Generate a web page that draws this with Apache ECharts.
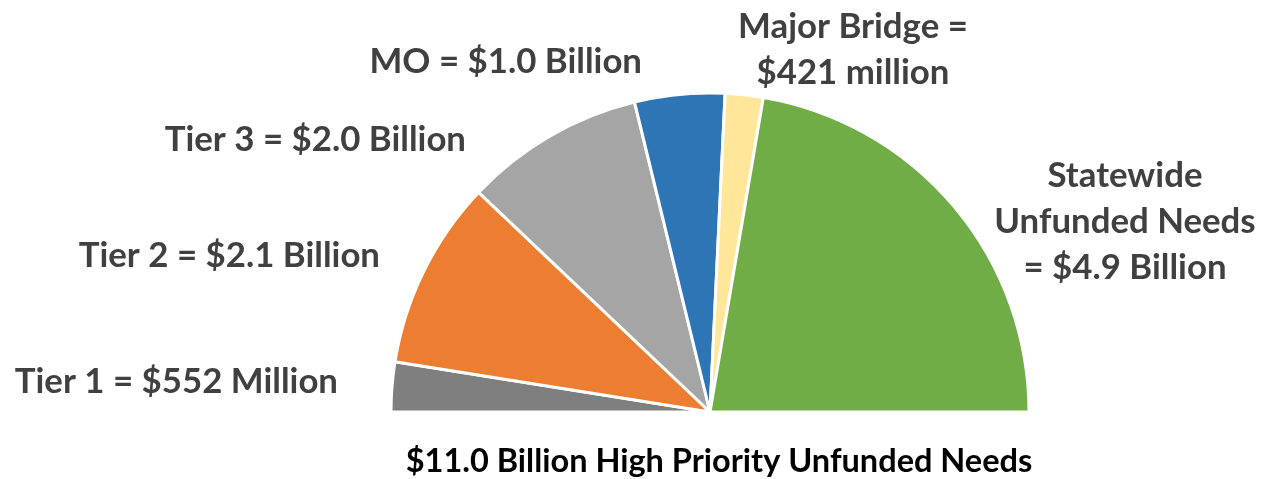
<!DOCTYPE html>
<html>
<head>
<meta charset="utf-8">
<script src="https://cdn.jsdelivr.net/npm/echarts@6/dist/echarts.min.js"></script>
<style>
  html, body { margin: 0; padding: 0; background: #fff; }
  #chart { width: 1268px; height: 479px; }
</style>
</head>
<body>
<div id="chart"></div>
<script>
// Данные графика
const categories = ["Tier 1", "Tier 2", "Tier 3", "MO", "Major Bridge", "Statewide Unfunded Needs"];
const values = [0.552, 2.1, 2.0, 1.0, 0.421, 4.9]; // млрд $
const labels = [
    "Tier 1 = $552 Million",
    "Tier 2 = $2.1 Billion",
    "Tier 3 = $2.0 Billion",
    "MO = $1.0 Billion",
    "Major Bridge =\n$421 million",
    "Statewide\nUnfunded Needs\n= $4.9 Billion"
];
const chartTitle = "$11.0 Billion High Priority Unfunded Needs";

const colors = ["#7f7f7f", "#ed7d31", "#a5a5a5", "#2e75b6", "#ffe699", "#70ad47"];
// Положение подписей (x, y, выравнивание)
const labelPos = [
    { x: 338, y: 382, align: "right" },
    { x: 380, y: 256, align: "right" },
    { x: 466, y: 140, align: "right" },
    { x: 642, y: 62, align: "right" },
    { x: 853, y: 50, align: "center" },
    { x: 1125, y: 222, align: "center" }
];

const chart = echarts.init(document.getElementById("chart"));

const option = {
    title: {
        text: chartTitle,
        left: 714,
        top: 440,
        textAlign: "center",
        textStyle: { fontFamily: "Lato", fontWeight: "bold", fontSize: 32.5, color: "#000" }
    },
    series: [{
        type: "pie",
        center: [710, 412],
        radius: 319,
        startAngle: 180,
        endAngle: 0,
        clockwise: true,
        silent: true,
        itemStyle: { borderColor: "#fff", borderWidth: 3 },
        label: {
            show: true,
            formatter: (p) => labels[p.dataIndex],
            fontFamily: "Lato",
            fontWeight: "bold",
            fontSize: 34.8,
            lineHeight: 46,
            color: "#404040"
        },
        labelLine: { show: false },
        labelLayout: (params) => {
            const pos = labelPos[params.dataIndex];
            return { x: pos.x, y: pos.y, align: pos.align, verticalAlign: "middle" };
        },
        data: categories.map((name, i) => ({
            name: name,
            value: values[i],
            itemStyle: { color: colors[i] }
        }))
    }]
};

chart.setOption(option);
</script>
</body>
</html>
